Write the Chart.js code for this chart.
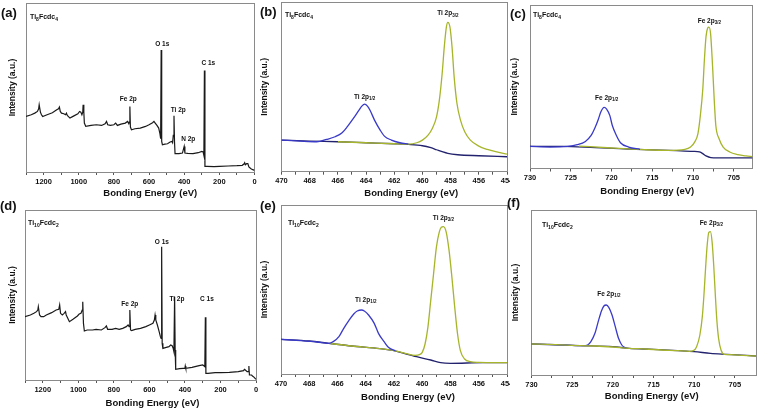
<!DOCTYPE html>
<html>
<head>
<meta charset="utf-8">
<script src="https://cdn.jsdelivr.net/npm/chart.js@4/dist/chart.umd.min.js"></script>
<style>
  body { margin: 0; background: #fff; width: 758px; height: 413px; position: relative; overflow: hidden;
         font-family: "Liberation Sans", Arial, sans-serif; }
  canvas { position: absolute; }
  .tag { position: absolute; font-weight: bold; font-size: 13px; color: #111; line-height: 15px; }
  .name { position: absolute; font-weight: bold; font-size: 7px; color: #111; line-height: 9px; }
  .name sub { font-size: 5px; vertical-align: -1.5px; }
</style>
</head>
<body>
<canvas id="pa" width="258" height="206" style="left:0;top:0"></canvas>
<canvas id="pb" width="252" height="206" style="left:258px;top:0"></canvas>
<canvas id="pc" width="248" height="206" style="left:510px;top:0"></canvas>
<canvas id="pd" width="258" height="213" style="left:0;top:200px"></canvas>
<canvas id="pe" width="252" height="213" style="left:258px;top:200px"></canvas>
<canvas id="pf" width="248" height="213" style="left:510px;top:200px"></canvas>

<div class="tag" style="left:1px;top:5px">(a)</div>
<div class="tag" style="left:260px;top:4px">(b)</div>
<div class="tag" style="left:510px;top:6px">(c)</div>
<div class="tag" style="left:0;top:198px">(d)</div>
<div class="tag" style="left:260px;top:198px">(e)</div>
<div class="tag" style="left:507px;top:195px">(f)</div>

<div class="name" style="left:30px;top:12px">Ti<sub>8</sub>Fcdc<sub>4</sub></div>
<div class="name" style="left:285px;top:10px">Ti<sub>8</sub>Fcdc<sub>4</sub></div>
<div class="name" style="left:533px;top:10px">Ti<sub>8</sub>Fcdc<sub>4</sub></div>
<div class="name" style="left:28px;top:218px">Ti<sub>10</sub>Fcdc<sub>2</sub></div>
<div class="name" style="left:288px;top:218px">Ti<sub>10</sub>Fcdc<sub>2</sub></div>
<div class="name" style="left:542px;top:220px">Ti<sub>10</sub>Fcdc<sub>2</sub></div>

<script>
// survey spectra [binding energy eV, intensity a.u.]
const surveyTi8 = [[1300,167],[1270,172],[1250,177],[1235,182],[1228,190],[1225,202],[1218,180],[1212,172],[1205,167],
  [1180,172],[1150,178],[1125,187],[1115,190],[1110,195],[1105,182],[1098,177],[1085,175],[1075,172],[1070,177],
  [1065,170],[1050,162],[1030,168],[1005,175],[995,182],[988,180],[982,172],[977,180],[975,202],[971,180],[968,147],
  [960,137],[930,140],[900,142],[870,140],[850,145],[842,152],[835,142],[820,140],[800,142],[790,147],[780,140],
  [760,144],[735,147],[722,152],[715,145],[712,150],[709,197],[706,135],[700,127],[680,130],[650,132],[620,137],
  [600,142],[580,148],[572,152],[565,147],[555,140],[545,132],[538,115],[534,100],[531,367],[528,92],[524,82],
  [510,84],[495,85],[480,90],[470,92],[466,88],[462,110],[458,169],[455,90],[452,55],[430,55],[410,57],[400,77],
  [396,57],[380,56],[350,55],[320,58],[300,62],[292,60],[288,50],[285,305],[282,17],[270,17],[230,16],[200,17],
  [150,18],[100,19],[70,20],[60,24],[56,28],[52,22],[45,25],[38,25],[32,15],[20,10],[10,7],[0,5]];
const surveyTi10 = [[1300,190],[1270,195],[1250,200],[1235,205],[1228,210],[1225,220],[1218,195],[1210,190],[1195,190],
  [1180,195],[1150,202],[1125,210],[1110,212],[1105,225],[1100,200],[1090,195],[1080,200],[1072,205],[1068,195],
  [1050,175],[1030,182],[1005,192],[995,198],[985,200],[978,210],[975,235],[971,170],[966,147],[950,150],[920,150],
  [900,152],[870,150],[850,157],[842,162],[835,152],[810,152],[790,155],[770,152],[750,155],[730,160],[720,165],
  [714,160],[710,210],[706,150],[700,148],[680,152],[650,155],[620,160],[600,165],[580,170],[572,180],[568,195],
  [564,180],[555,165],[545,145],[538,130],[534,125],[531,400],[528,110],[524,95],[505,98],[490,100],[480,105],
  [472,103],[466,95],[462,85],[458,250],[455,90],[452,32],[430,34],[410,35],[400,35],[398,42],[395,35],[360,38],
  [320,43],[300,45],[292,42],[288,40],[285,188],[282,20],[270,20],[230,22],[200,22],[150,23],[100,25],[70,28],
  [65,32],[60,30],[50,25],[43,25],[40,42],[37,15],[25,15],[20,12],[10,8],[0,2]];

// Ti 2p, Ti8Fcdc4
const ti8Ti12 = [[470,95],[468.7,92],[467.5,90],[466.8,97],[466.2,105],[465.7,117],[465.3,137],[464.9,160],[464.5,185],
  [464.3,197],[464.1,203],[463.9,197],[463.7,183],[463.4,155],[463.0,125],[462.7,107],[462.2,95],[461.6,87],[461,83]];
const ti8Ti32 = [[466,90],[464,87],[462,84],[461,83],[460.4,87],[460.0,95],[459.6,110],[459.3,130],[459.0,165],
  [458.8,215],[458.6,295],[458.45,375],[458.3,435],[458.2,449],[458.05,435],[457.9,375],[457.75,285],[457.55,205],
  [457.3,155],[457.0,120],[456.6,95],[456.0,77],[455.4,67],[454.8,60],[454.0,53]];
const ti8TiBg = [[470,95],[468,92],[466,90],[464,87],[462,84],[461,82],[460,78],[459.4,72],[459,66],[458.6,60],
  [458.2,55],[457.5,51],[456,48],[454,45]];

// Fe 2p, Ti8Fcdc4
const ti8Fe12 = [[730,67],[727.5,65],[725.4,67],[724.2,72],[723.2,82],[722.5,100],[722.0,125],[721.6,150],[721.3,172],
  [720.9,185],[720.6,180],[720.2,160],[719.9,130],[719.4,100],[718.9,78],[717.9,65],[716.5,58]];
const ti8Fe32 = [[724,68],[720,62],[716,57],[713,55],[711,58],[710.3,65],[709.8,80],[709.4,105],[709.1,160],[708.8,240],
  [708.6,330],[708.4,400],[708.2,425],[708.05,428],[707.85,410],[707.6,310],[707.4,210],[707.2,130],[706.8,90],
  [706.3,65],[705.5,50],[704.5,42],[703.5,38],[702.7,36]];
const ti8FeBg = [[730,67],[726,67],[722,63],[719,60],[716,57],[712,54],[710,52],[709.2,50],[708.8,45],[708.4,38],
  [707.8,33],[706,32],[702.7,32]];

// Ti 2p, Ti10Fcdc2
const ti10Ti12 = [[470,104],[468.6,100],[467.45,96],[466.6,92],[466.3,97],[465.9,112],[465.6,134],[465.2,160],
  [464.85,180],[464.6,189],[464.3,192],[464.1,189],[463.8,177],[463.4,152],[463.1,122],[462.7,97],[462.4,80],[461.9,70]];
const ti10Ti32 = [[466.6,92],[465,84],[463,76],[462,70],[461.2,62],[460.5,56],[460.2,58],[460.0,65],[459.8,90],
  [459.6,140],[459.4,220],[459.2,300],[459.0,380],[458.8,425],[458.65,440],[458.5,442],[458.3,425],[458.1,370],
  [457.9,290],[457.7,200],[457.5,120],[457.3,70],[457.0,45],[456.6,37],[456,35],[454,34]];
const ti10TiBg = [[470,104],[468,99],[466.6,92],[465,84],[463,76],[462,70],[461.3,62],[460.4,52],[459.4,42],
  [458.7,34],[458,32],[455.7,34],[454,34]];

// Fe 2p, Ti10Fcdc2
const ti10Fe12 = [[730,93],[727.8,92],[725.7,90],[723.7,88],[723.1,90],[722.7,100],[722.2,125],[721.8,160],[721.4,192],
  [721.1,207],[720.8,210],[720.5,203],[720.1,180],[719.7,145],[719.3,110],[718.9,90],[718.4,80]];
const ti10Fe32 = [[730,93],[727,91],[724,88],[722,87],[720,84],[718,80],[716,78],[714,75],[712,73],[710.6,71],
  [710.1,73],[709.7,85],[709.3,120],[709.0,175],[708.8,240],[708.6,320],[708.4,390],[708.2,428],[708.0,430],
  [707.8,400],[707.6,330],[707.4,240],[707.2,160],[707.0,110],[706.7,75],[706.3,62],[705.5,61],[704,59],[702.4,57]];
const ti10FeBg = [[730,93],[724,88],[720,85],[718,80],[715,77],[712,73],[710,70],[708,65],[706,62],[702.4,57]];

// tick labels
const surveyTicks = [1200, 1000, 800, 600, 400, 200, 0];
const surveyMinor = [1300, 1100, 900, 700, 500, 300, 100];
const tiTicks = [470, 468, 466, 464, 462, 460, 458, 456, 454];
const tiMinor = [469, 467, 465, 463, 461, 459, 457, 455];
const feTicks = [730, 725, 720, 715, 710, 705];
const feMinor = [727.5, 722.5, 717.5, 712.5, 707.5];

const FONT = '"Liberation Sans", Arial, sans-serif';
const BLUE = "#3a3ac8";
const OLIVE = "#a6b52b";
const NAVY = "#22226e";
const FRAME = "#8a8a8a";

// peak labels (with subscripts) and the x axis title, which sits a bit right of centre
function labelPlugin(items, xt) {
  return {
    id: "peakLabels",
    afterDraw(chart) {
      const { ctx, scales, chartArea } = chart;
      ctx.save();
      ctx.fillStyle = "#111";
      ctx.textBaseline = "middle";
      ctx.textAlign = "left";
      items.forEach(it => {
        const px = scales.x.getPixelForValue(it.x);
        const py = scales.y.getPixelForValue(it.y);
        const mainF = "bold 6.5px " + FONT, subF = "bold 4.5px " + FONT;
        ctx.font = mainF;
        const w1 = ctx.measureText(it.text).width;
        ctx.font = subF;
        const w2 = it.sub ? ctx.measureText(it.sub).width : 0;
        const sx = px - (w1 + w2) / 2;
        ctx.font = mainF;
        ctx.fillText(it.text, sx, py);
        if (it.sub) {
          ctx.font = subF;
          ctx.fillText(it.sub, sx + w1, py + 2);
        }
      });
      ctx.font = "bold 9.5px " + FONT;
      ctx.textAlign = "center";
      ctx.fillText("Bonding Energy (eV)", (chartArea.left + chartArea.right) / 2 + xt.dx, xt.y);
      ctx.restore();
    }
  };
}

function makePanel(id, o) {
  const major = new Set(o.ticks);
  const allTicks = o.ticks.concat(o.minor).sort((a, b) => a - b);
  new Chart(document.getElementById(id), {
    type: "line",
    data: {
      datasets: o.series.map(s => ({
        data: s.data.map(p => ({ x: p[0], y: p[1] })),
        borderColor: s.color,
        borderWidth: s.width || 1.3,
        pointRadius: 0,
        fill: false,
        order: s.order,
        cubicInterpolationMode: s.smooth ? "monotone" : "default",
        tension: 0
      }))
    },
    options: {
      responsive: false,
      animation: false,
      events: [],
      layout: { padding: { top: o.pt, right: o.pr, left: 0, bottom: 0 } },
      plugins: { legend: { display: false }, tooltip: { enabled: false } },
      scales: {
        x: {
          type: "linear", position: "bottom", reverse: true, min: o.xmin, max: o.xmax,
          afterBuildTicks: sc => { sc.ticks = allTicks.map(v => ({ value: v })); },
          afterFit: sc => { sc.height = o.xh; sc.paddingLeft = 0; sc.paddingRight = 0; },
          ticks: {
            autoSkip: false, maxRotation: 0, padding: 2, color: "#111",
            font: { family: FONT, size: 7.5, weight: "bold" },
            callback: v => (major.has(v) ? String(v) : "")
          },
          grid: { display: true, drawOnChartArea: false, drawTicks: true, tickLength: 3, color: "#555" },
          border: { color: FRAME, width: 1 },
          title: { display: false }
        },
        y: {
          type: "linear", position: "left", min: 0, max: o.ymax,
          afterFit: sc => { sc.width = o.yw; },
          ticks: { display: false },
          grid: { display: false },
          border: { color: FRAME, width: 1 },
          title: { display: true, text: "Intensity (a.u.)", color: "#111",
                   font: { family: FONT, size: 8.5, weight: "bold" }, padding: { top: o.yt, bottom: 0 } }
        },
        x2: {
          type: "linear", position: "top", min: 0, max: 1,
          afterFit: sc => { sc.height = 0; },
          ticks: { display: false }, grid: { display: false },
          border: { color: FRAME, width: 1 }
        },
        y2: {
          type: "linear", position: "right", min: 0, max: 1,
          afterFit: sc => { sc.width = 0; },
          ticks: { display: false }, grid: { display: false },
          border: { color: FRAME, width: 1 }
        }
      }
    },
    plugins: [labelPlugin(o.labels, o.xt)]
  });
}

makePanel("pa", {
  xmin: 0, xmax: 1300, ymax: 508, ticks: surveyTicks, minor: surveyMinor,
  pt: 3, pr: 3.5, xh: 34, yw: 26, yt: 7.9, xt: { dx: 10, y: 193 },
  series: [{ data: surveyTi8, color: "#1a1a1a", width: 1.2, order: 0 }],
  labels: [
    { text: "O 1s", x: 525, y: 385 }, { text: "C 1s", x: 263, y: 328 },
    { text: "Fe 2p", x: 718, y: 220 }, { text: "Ti 2p", x: 434, y: 187 }, { text: "N 2p", x: 377, y: 100 }
  ]
});

makePanel("pb", {
  xmin: 454, xmax: 470, ymax: 510, ticks: tiTicks, minor: tiMinor,
  pt: 2, pr: 3, xh: 34.3, yw: 23.5, yt: 1.9, xt: { dx: 17, y: 193 },
  series: [
    { data: ti8Ti12, color: BLUE, order: 0, smooth: true },
    { data: ti8Ti32, color: OLIVE, order: 1, smooth: true },
    { data: ti8TiBg, color: NAVY, order: 2, smooth: true }
  ],
  labels: [
    { text: "Ti 2p", sub: "3/2", x: 458.2, y: 476 },
    { text: "Ti 2p", sub: "1/2", x: 464.1, y: 224 }
  ]
});

makePanel("pc", {
  xmin: 702.7, xmax: 730, ymax: 495, ticks: feTicks, minor: feMinor,
  pt: 5, pr: 5.5, xh: 37.5, yw: 20, yt: 0, xt: { dx: 6, y: 191.5 },
  series: [
    { data: ti8Fe12, color: BLUE, order: 0, smooth: true },
    { data: ti8Fe32, color: OLIVE, order: 1, smooth: true },
    { data: ti8FeBg, color: NAVY, order: 2, smooth: true }
  ],
  labels: [
    { text: "Fe 2p", sub: "3/2", x: 708.0, y: 447 },
    { text: "Fe 2p", sub: "1/2", x: 720.6, y: 213 }
  ]
});

makePanel("pd", {
  xmin: 0, xmax: 1300, ymax: 510, ticks: surveyTicks, minor: surveyMinor,
  pt: 10, pr: 2, xh: 33, yw: 25, yt: 7.9, xt: { dx: 12, y: 203 },
  series: [{ data: surveyTi10, color: "#1a1a1a", width: 1.2, order: 0 }],
  labels: [
    { text: "O 1s", x: 530, y: 414 }, { text: "Ti 2p", x: 445, y: 243 },
    { text: "Fe 2p", x: 710, y: 228 }, { text: "C 1s", x: 276, y: 243 }
  ]
});

makePanel("pe", {
  xmin: 454, xmax: 470, ymax: 507, ticks: tiTicks, minor: tiMinor,
  pt: 5, pr: 3, xh: 39, yw: 23, yt: 1.9, xt: { dx: 14, y: 197 },
  series: [
    { data: ti10Ti12, color: BLUE, order: 0, smooth: true },
    { data: ti10Ti32, color: OLIVE, order: 1, smooth: true },
    { data: ti10TiBg, color: NAVY, order: 2, smooth: true }
  ],
  labels: [
    { text: "Ti 2p", sub: "3/2", x: 458.5, y: 468 },
    { text: "Ti 2p", sub: "1/2", x: 464.0, y: 222 }
  ]
});

makePanel("pf", {
  xmin: 702.4, xmax: 730, ymax: 495, ticks: feTicks, minor: feMinor,
  pt: 10, pr: 2, xh: 38, yw: 21.5, yt: 0.9, xt: { dx: 8, y: 196 },
  series: [
    { data: ti10Fe32, color: OLIVE, order: 0, smooth: true },
    { data: ti10Fe12, color: BLUE, order: 1, smooth: true },
    { data: ti10FeBg, color: NAVY, order: 2, smooth: true }
  ],
  labels: [
    { text: "Fe 2p", sub: "3/2", x: 707.9, y: 456 },
    { text: "Fe 2p", sub: "1/2", x: 720.5, y: 243 }
  ]
});
</script>
</body>
</html>
